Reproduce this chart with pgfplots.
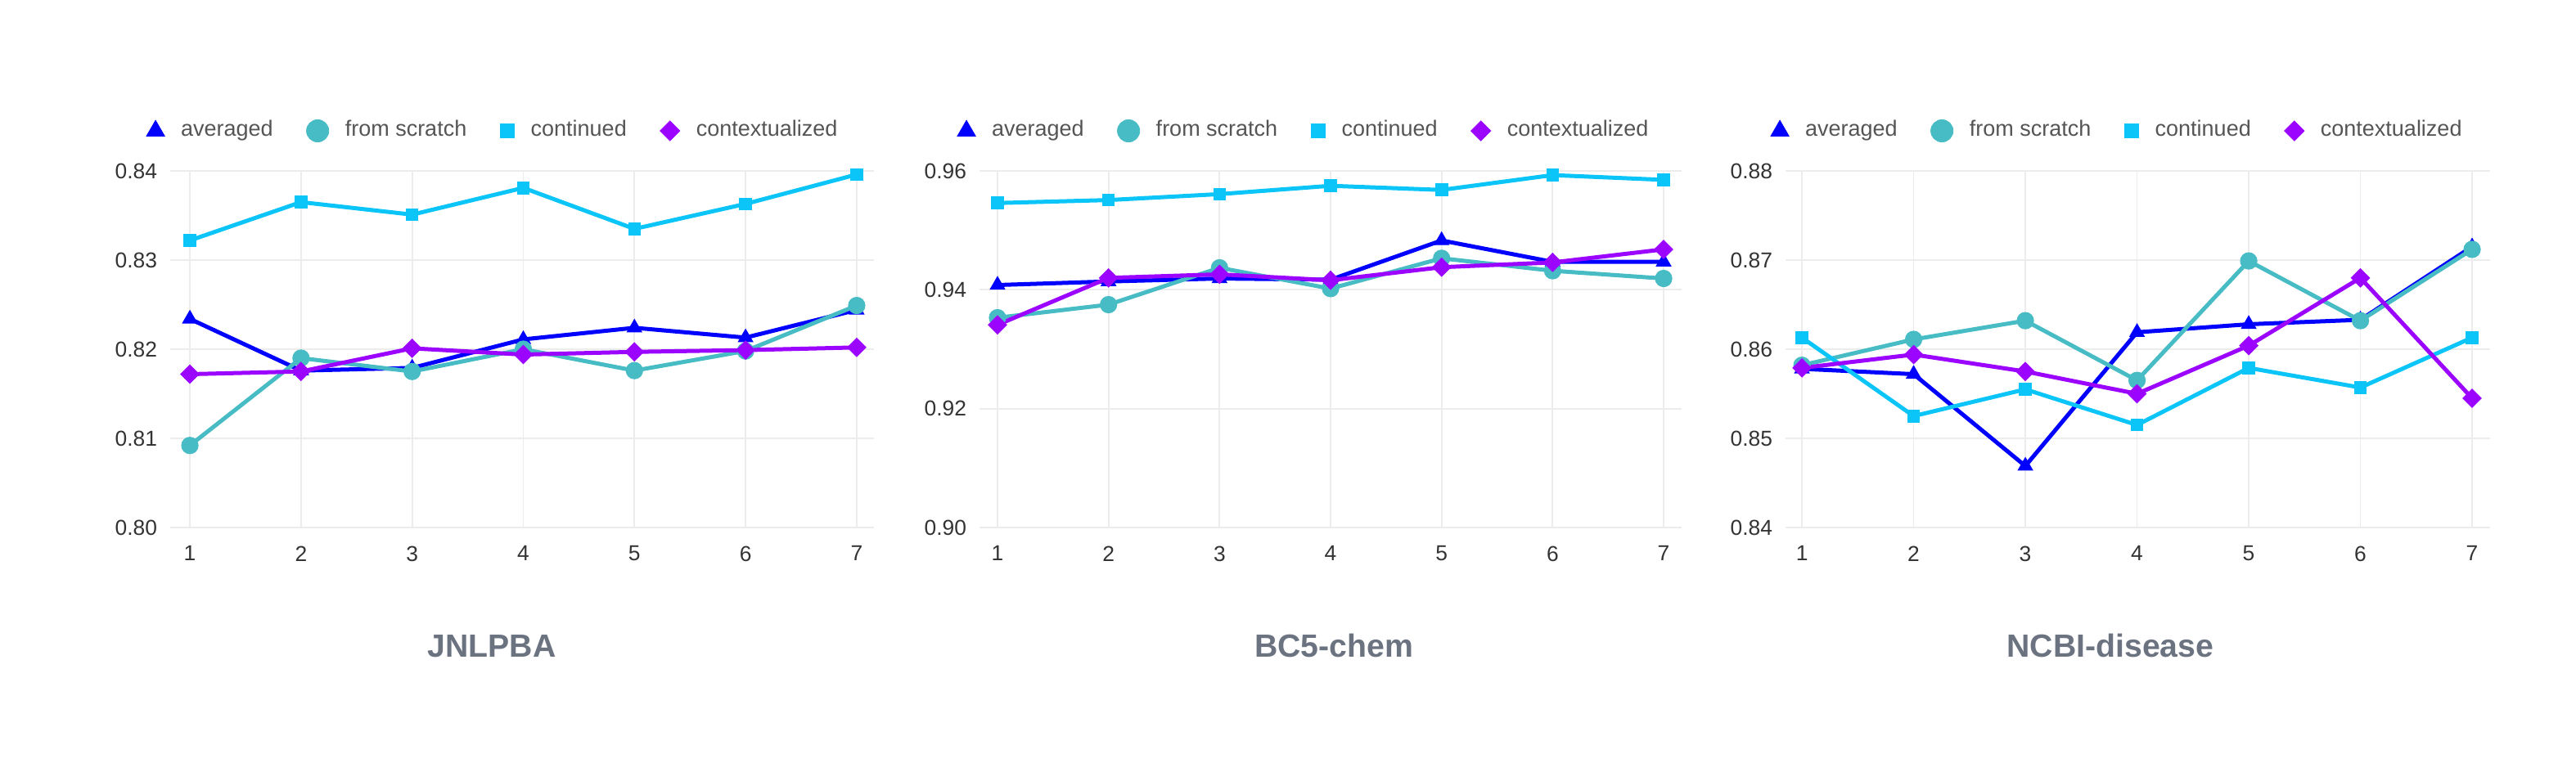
\documentclass[border=0pt]{standalone}
\usepackage{fontspec}
\setmainfont{Liberation Sans}
\usepackage{pgfplots}
\usepackage{pgfplotstable}
\pgfplotsset{compat=1.18}

\definecolor{cavg}{HTML}{0000FF}
\definecolor{cscr}{HTML}{47BCC5}
\definecolor{ccont}{HTML}{0CC5F8}
\definecolor{cctx}{HTML}{9B05FF}
\definecolor{gridc}{HTML}{ECECEC}
\definecolor{tickc}{HTML}{333333}
\definecolor{legc}{HTML}{555555}
\definecolor{titlec}{HTML}{6B7280}

\pgfplotstableread{
x avg scr cont ctx
1 0.8234 0.8092 0.8322 0.8172
2 0.8176 0.8190 0.8365 0.8175
3 0.8179 0.8175 0.8351 0.8201
4 0.8211 0.8200 0.8381 0.8194
5 0.8224 0.8176 0.8335 0.8197
6 0.8213 0.8198 0.8363 0.8199
7 0.8244 0.8249 0.8396 0.8202
}\tabA
\pgfplotstableread{
x avg scr cont ctx
1 0.9408 0.9353 0.9546 0.9341
2 0.9414 0.9375 0.9551 0.9420
3 0.9419 0.9437 0.9561 0.9426
4 0.9417 0.9402 0.9575 0.9416
5 0.9483 0.9453 0.9568 0.9438
6 0.9447 0.9432 0.9593 0.9446
7 0.9447 0.9419 0.9585 0.9468
}\tabB
\pgfplotstableread{
x avg scr cont ctx
1 0.8578 0.8582 0.8613 0.8579
2 0.8572 0.8611 0.8525 0.8594
3 0.8469 0.8632 0.8555 0.8575
4 0.8619 0.8565 0.8515 0.8550
5 0.8628 0.8699 0.8579 0.8604
6 0.8633 0.8632 0.8557 0.8680
7 0.8715 0.8712 0.8613 0.8545
}\tabC

\pgfplotsset{
  panel/.style={
    scale only axis,
    height=109pt,
    anchor=south west,
    axis line style={draw=none},
    tick style={draw=none},
    grid=major,
    major grid style={line width=0.45pt, color=gridc},
    xtick={1,2,3,4,5,6,7},
    /pgf/number format/assume math mode=true,
    ticklabel style={font=\fontsize{6.6}{8}\selectfont, text=tickc},
    xticklabel style={inner sep=0pt, yshift=-5.5pt},
    yticklabel style={inner sep=0pt, xshift=-3.8pt,
      /pgf/number format/fixed, /pgf/number format/fixed zerofill,
      /pgf/number format/precision=2},
    clip=false,
    legend image code/.code={\draw[##1] plot coordinates {(0pt,0pt)};},
    legend style={draw=none, fill=none, inner sep=0pt, outer sep=0pt,
      anchor=west, legend columns=4,
      font=\fontsize{6.75}{8}\selectfont, text=legc,
      nodes={inner sep=0pt},
      /tikz/every odd column/.append style={column sep=5pt},
      /tikz/every even column/.append style={column sep=10.2pt}},
  },
  savg/.style={color=cavg, line width=1.25pt, mark=triangle*, mark size=2.5pt, mark options={line width=0.3pt}},
  sscr/.style={color=cscr, line width=1.25pt, mark=*, mark size=2.5pt, mark options={line width=0.3pt}},
  scont/.style={color=ccont, line width=1.25pt, mark=square*, mark size=1.8pt, mark options={line width=0.3pt}},
  sctx/.style={color=cctx, line width=1.25pt, mark=square*, mark size=1.95pt, mark options={line width=0.3pt, rotate=45}},
  lavg/.style={color=cavg, mark=triangle*, mark size=3.2pt, mark options={line width=0.2pt}},
  lscr/.style={color=cscr, mark=*, mark size=3.4pt, mark options={line width=0.2pt}},
  lcont/.style={color=ccont, mark=square*, mark size=2.2pt, mark options={line width=0.2pt}},
  lctx/.style={color=cctx, mark=square*, mark size=2.15pt, mark options={line width=0.2pt, rotate=45}},
}

\newcommand{\legendset}{%
  \addlegendimage{lavg}\addlegendentry{averaged}
  \addlegendimage{lscr}\addlegendentry{from scratch}
  \addlegendimage{lcont}\addlegendentry{continued}
  \addlegendimage{lctx}\addlegendentry{contextualized}
}

\begin{document}
\begin{tikzpicture}
\path[use as bounding box] (0,0) rectangle (787pt,235.75pt);

% Panel 1
\begin{axis}[panel, at={(52pt,74.5pt)}, width=215pt,
  xmin=0.823, xmax=7.155, ymin=0.80, ymax=0.84,
  ytick={0.80,0.81,0.82,0.83,0.84},
  legend style={at={(-0.0337,1.1124)}}]
\legendset
\addplot[savg, forget plot] table[x=x, y=avg] {\tabA};
\addplot[sscr, forget plot] table[x=x, y=scr] {\tabA};
\addplot[scont, forget plot] table[x=x, y=cont] {\tabA};
\addplot[sctx, forget plot] table[x=x, y=ctx] {\tabA};
\end{axis}

% Panel 2
\begin{axis}[panel, at={(299.25pt,74.5pt)}, width=214.5pt,
  xmin=0.838, xmax=7.162, ymin=0.90, ymax=0.96,
  ytick={0.90,0.92,0.94,0.96},
  legend style={at={(-0.0315,1.1124)}}]
\legendset
\addplot[savg, forget plot] table[x=x, y=avg] {\tabB};
\addplot[sscr, forget plot] table[x=x, y=scr] {\tabB};
\addplot[scont, forget plot] table[x=x, y=cont] {\tabB};
\addplot[sctx, forget plot] table[x=x, y=ctx] {\tabB};
\end{axis}

% Panel 3
\begin{axis}[panel, at={(545.5pt,74.5pt)}, width=215.25pt,
  xmin=0.853, xmax=7.161, ymin=0.84, ymax=0.88,
  ytick={0.84,0.85,0.86,0.87,0.88},
  legend style={at={(-0.0209,1.1124)}}]
\legendset
\addplot[savg, forget plot] table[x=x, y=avg] {\tabC};
\addplot[sscr, forget plot] table[x=x, y=scr] {\tabC};
\addplot[scont, forget plot] table[x=x, y=cont] {\tabC};
\addplot[sctx, forget plot] table[x=x, y=ctx] {\tabC};
\end{axis}

\node[anchor=base, text=titlec, font=\fontsize{9.8}{11}\selectfont\bfseries] at (150.25pt,34.75pt) {JNLPBA};
\node[anchor=base, text=titlec, font=\fontsize{9.8}{11}\selectfont\bfseries] at (407.5pt,34.75pt) {BC5-chem};
\node[anchor=base, text=titlec, font=\fontsize{9.8}{11}\selectfont\bfseries] at (644.75pt,34.75pt) {NCBI-disease};
\end{tikzpicture}
\end{document}
